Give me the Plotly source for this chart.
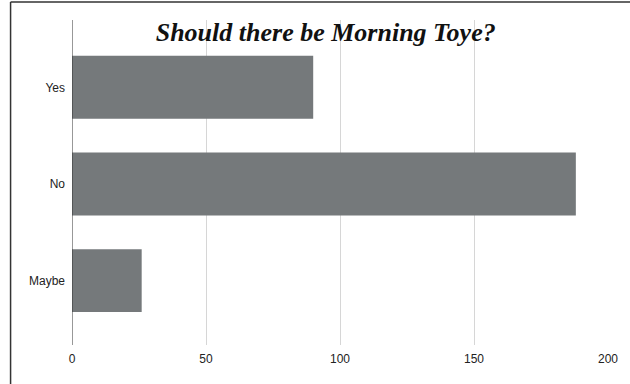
import plotly.graph_objects as go

categories = ["Yes", "No", "Maybe"]
values = [90, 188, 26]
x_ticks = [0, 50, 100, 150, 200]
title_text = "Should there be Morning Toye?"

fig = go.Figure(
    go.Bar(
        y=categories,
        x=values,
        orientation="h",
        marker=dict(color="#75797b", line=dict(width=0)),
        width=0.65,
    )
)

W_PLOT = 541
H_PLOT = 325

fig.update_layout(
    width=630,
    height=384,
    margin=dict(l=72, r=17, t=20, b=39),
    paper_bgcolor="white",
    plot_bgcolor="white",
    showlegend=False,
    title=dict(
        text="<b><i>" + title_text + "</i></b>",
        x=0.517,
        xanchor="center",
        y=0.917,
        yanchor="middle",
        font=dict(family="Liberation Serif", size=26, color="#111111"),
    ),
    xaxis=dict(
        range=[0, 200],
        tickvals=x_ticks,
        ticktext=[str(v) for v in x_ticks],
        showgrid=True,
        gridcolor="#d6d6d6",
        gridwidth=1,
        zeroline=False,
        showline=False,
        ticks="",
        tickfont=dict(family="Liberation Sans", size=12, color="#222222"),
        ticklabelstandoff=5,
    ),
    yaxis=dict(
        categoryorder="array",
        categoryarray=categories[::-1],
        range=[-0.665, 2.696],
        showgrid=False,
        zeroline=False,
        showline=False,
        ticks="",
        tickfont=dict(family="Liberation Sans", size=12, color="#222222"),
        ticklabelstandoff=6,
    ),
    shapes=[
        dict(type="line", xref="x", yref="paper", x0=0, x1=0, y0=0, y1=1,
             line=dict(color="#333333", width=1)),
        dict(type="line", xref="paper", yref="paper",
             x0=-62/W_PLOT, x1=(640-72)/W_PLOT, y0=(345-2)/H_PLOT, y1=(345-2)/H_PLOT,
             line=dict(color="#333333", width=1.5)),
        dict(type="line", xref="paper", yref="paper",
             x0=-62/W_PLOT, x1=-62/W_PLOT, y0=-50/H_PLOT, y1=(345-2)/H_PLOT,
             line=dict(color="#333333", width=1.5)),
    ],
)

fig.write_html(
    "out.html",
    config={"displayModeBar": False},
    post_script="document.body.style.margin='0';document.body.style.overflow='hidden';",
)
